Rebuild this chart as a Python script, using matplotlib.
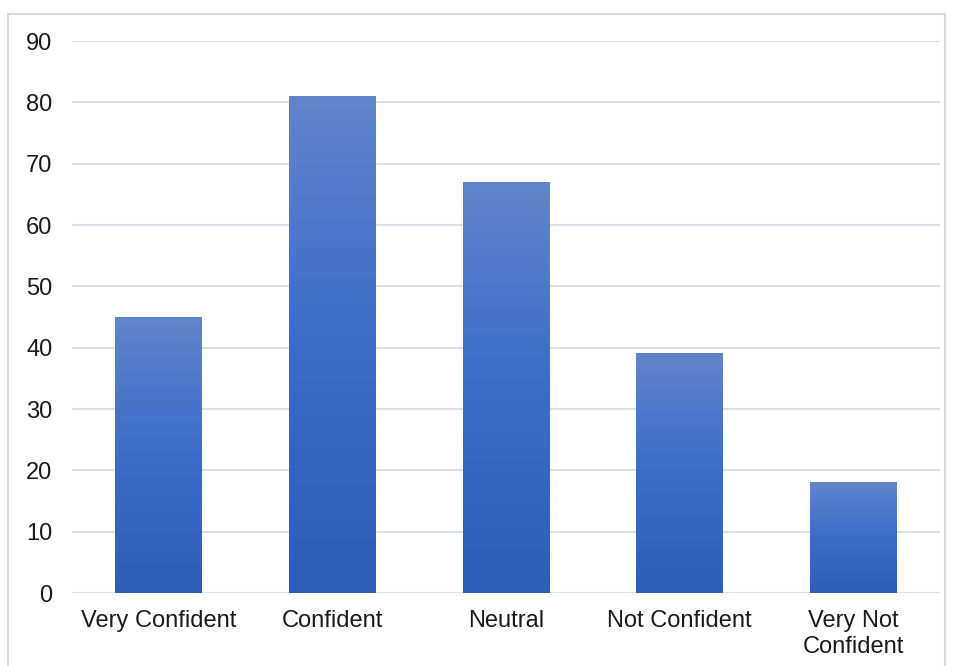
import matplotlib
matplotlib.use("Agg")
import matplotlib.pyplot as plt
import numpy as np
from matplotlib.colors import LinearSegmentedColormap
from matplotlib.patches import Rectangle

categories = ["Very Confident", "Confident", "Neutral", "Not Confident", "Very Not\nConfident"]
values = [45, 81, 67, 39, 18]
yticks = [0, 10, 20, 30, 40, 50, 60, 70, 80, 90]

plt.rcParams['font.family'] = ['Liberation Sans', 'DejaVu Sans']

fig = plt.figure(figsize=(9.55, 6.66), dpi=100)
# outer frame
fig.patches.append(Rectangle((8/955, -0.01), (945-8)/955, 1 - 14/666 + 0.01,
                             transform=fig.transFigure, fill=False,
                             edgecolor='#d9d9d9', linewidth=1.5))

ax = fig.add_axes([72/955, 1 - 593/666, (940-72)/955, (593-41)/666])

cmap = LinearSegmentedColormap.from_list("g", ["#2e5eb8", "#3b6cc8", "#6185cb"])
grad = np.linspace(0, 1, 256).reshape(-1, 1)
width = 0.5
for i, v in enumerate(values):
    ax.imshow(grad, cmap=cmap, origin='lower', aspect='auto',
              extent=(i - width/2, i + width/2, 0, v), zorder=3)
ax.set_xlim(-0.5, len(categories) - 0.5)
ax.set_ylim(0, 90)

ax.set_yticks(yticks)
ax.set_xticks(range(len(categories)))
ax.set_xticklabels(categories, fontsize=17, color='#1a1a1a', linespacing=1.2)
ax.tick_params(axis='y', labelsize=17, colors='#1a1a1a', length=0, pad=14)
ax.tick_params(axis='x', length=0, pad=12.5)
for y in yticks:
    ax.axhline(y, color='#dcdfe8', linewidth=1.5, zorder=1)
for s in ax.spines.values():
    s.set_visible(False)

fig.savefig("out.png", dpi=100)
